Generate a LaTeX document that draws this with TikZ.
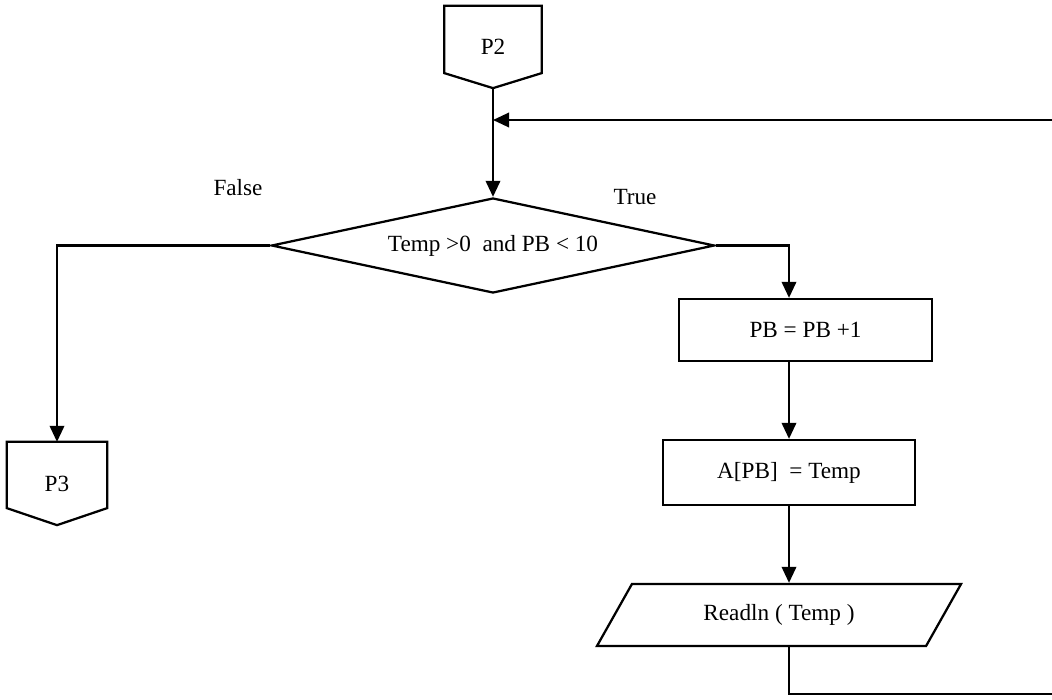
\documentclass[tikz,border=0pt]{standalone}
\usepackage{fontspec}
\setmainfont{Liberation Serif}
\usetikzlibrary{arrows.meta,positioning,shapes.geometric}

\begin{document}
\begin{tikzpicture}[
    x=0.025cm, y=-0.025cm,
    font=\fontsize{16.5}{19}\selectfont,
    line width=1.6pt,
    procbox/.style={draw, minimum width=6.3cm, minimum height=1.6cm},
    decision/.style={draw, diamond, aspect=4.66, inner sep=0pt,
        minimum width=11.075cm, minimum height=2.375cm},
    iobox/.style={draw, trapezium, trapezium left angle=41, trapezium right angle=139,
        trapezium stretches body=true, minimum width=9.1cm, minimum height=1.55cm},
    offpage/.style={minimum width=2.4cm, minimum height=2cm, inner sep=0pt},
    arrow/.style={-{Triangle[length=4mm, width=3.6mm]}}
]
\useasboundingbox (0,0) rectangle (1052,699);

\node[offpage, minimum width=2.375cm] (p2) at (493,47) {P2};
\draw (p2.north west) -- (p2.north east) -- ([yshift=0.375cm]p2.south east)
    -- (p2.south) -- ([yshift=0.375cm]p2.south west) -- cycle;

\node[decision] (dec) at (493,245.5) {Temp >0\ \ and PB < 10};
\node (falselbl) at (238,188) {False};
\node (truelbl) at (635,197) {True};

\node[offpage, minimum width=2.45cm, minimum height=2.025cm] (p3) at (57,483.5) {P3};
\draw (p3.north west) -- (p3.north east) -- ([yshift=0.425cm]p3.south east)
    -- (p3.south) -- ([yshift=0.425cm]p3.south west) -- cycle;

\node[procbox, minimum width=6.325cm, minimum height=1.55cm] (inc) at (805.5,330) {PB = PB +1};
\node[procbox, minimum height=1.625cm] (store) at (789,472.5) {A[PB]\ \ = Temp};
\node[iobox] (read) at (779,615) {Readln ( Temp )};

\coordinate (fbtop) at (1052,120);
\coordinate (fbbot) at (1052,694);
\coordinate (join) at (p2.south |- fbtop);

\draw[arrow] (p2.south) -- (dec.north);
\draw[arrow] (fbtop) -- (join);
\draw[arrow] (dec.west) -| (p3.north);
\draw[arrow] (dec.east) -| (inc.north -| store);
\draw[arrow] (inc.south -| store) -- (store);
\draw[arrow] (store) -- (read.north -| store);
\draw (read.south -| store) |- (fbbot);

\end{tikzpicture}
\end{document}
